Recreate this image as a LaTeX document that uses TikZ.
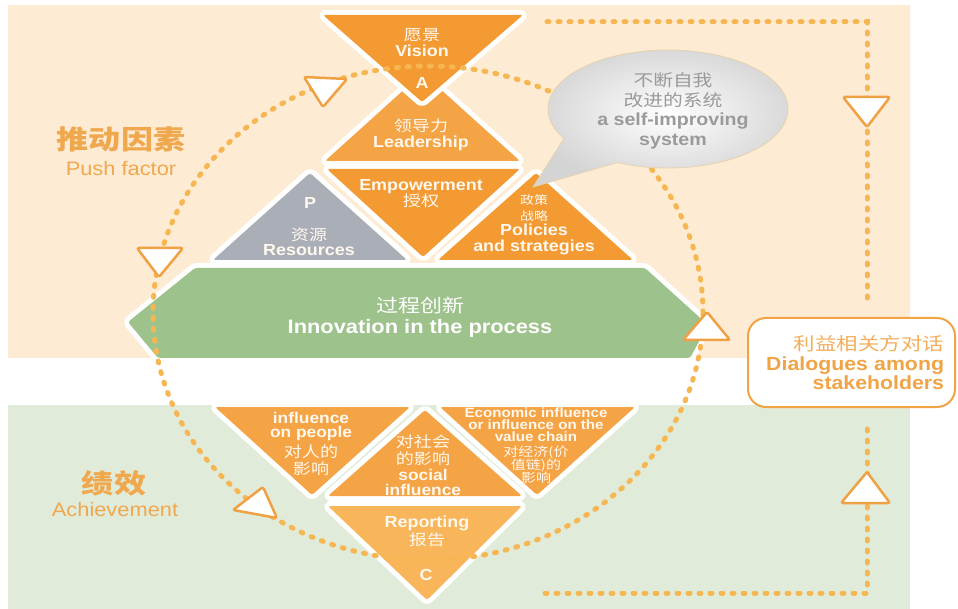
\documentclass[tikz,border=0pt]{standalone}
\usepackage{fontspec}
\usetikzlibrary{calc}
\newfontfamily\lat{Liberation Sans}[FakeStretch=1.12]
\newfontfamily\cjk{Noto Sans CJK SC}[Scale=0.94,FakeStretch=1.2]
\newcommand\zhtxt[1]{{\cjk\mdseries #1}}
\newcommand\zhs[2]{{\cjk\mdseries\fontsize{#1}{#1}\selectfont #2}}
\newcommand\tightls{\lineskiplimit -50pt\relax}
\definecolor{peachbg}{HTML}{FDEBD3}
\definecolor{greenbg}{HTML}{E1EBDA}
\definecolor{orA}{HTML}{F39A33}
\definecolor{orB}{HTML}{F4A345}
\definecolor{orC}{HTML}{F5A445}
\definecolor{orD}{HTML}{F8B55A}
\definecolor{grayres}{HTML}{A9AEB7}
\definecolor{greenhex}{HTML}{9DC28B}
\definecolor{dotc}{HTML}{F6B753}
\definecolor{arrc}{HTML}{F0A143}
\definecolor{labc}{HTML}{F0A84E}
\definecolor{txtw}{HTML}{FFF8EE}
\definecolor{bubtxt}{HTML}{9A9A9A}
\definecolor{bubedge}{HTML}{E6D2AE}
\definecolor{boxc}{HTML}{F0A445}
\definecolor{boxzh}{HTML}{F2AE5C}
\begin{document}
\begin{tikzpicture}[x=1pt,y=-1pt,
 shp/.style={rounded corners=2.5pt, preaction={draw=white, fill=white, line width=10pt, line join=round}},
 lbl/.style={text=txtw, align=center, inner sep=0pt, font=\lat\bfseries\fontsize{16}{16}\selectfont\tightls},
 circdots/.style={draw=dotc, line width=5pt, line cap=round, dash pattern=on 2pt off 9pt},
 rectdots/.style={draw=dotc, line width=5pt, line cap=round, dash pattern=on 2pt off 9pt},
 arrtri/.style={fill=white, draw=arrc, line width=2.5pt, line join=round, rounded corners=2pt},
 sidelbl/.style={text=labc, inner sep=0pt}]

\useasboundingbox (0,0) rectangle (958,609);
\fill[white] (0,0) rectangle (958,609);
\fill[peachbg] (8,5) rectangle (910,358);
\fill[greenbg] (8,405) rectangle (910,609);

% right-side dotted connectors
\coordinate (tpS) at (547,22); \coordinate (tpC) at (867,22); \coordinate (tpE) at (867,300);
\coordinate (bpS) at (545,593); \coordinate (bpC) at (867,593); \coordinate (bpE) at (867,423);
\draw[rectdots] (tpS) -- (tpC) -- (tpE);
\draw[rectdots] (bpS) -- (bpC) -- (bpE);

% diamond shapes
\fill[shp, fill=orB] (325,161) -- (520,161) -- (422.5,73) -- cycle;
\fill[shp, fill=orA] (327,169) -- (520,169) -- (423,257) -- cycle;
\fill[shp, fill=grayres] (213,260) -- (407,260) -- (310,173) -- cycle;
\fill[shp, fill=orA] (438,260) -- (633,260) -- (536,173) -- cycle;
\fill[shp, fill=greenhex] (128,322) -- (195,268) -- (645,268) -- (708,325) -- (690,358) -- (158,358) -- cycle;
\fill[shp, fill=orC] (215,407) -- (410,407) -- (312,495) -- cycle;
\fill[shp, fill=orC] (328,496) -- (522,496) -- (425,410) -- cycle;
\fill[shp, fill=orC] (440,407) -- (635,407) -- (537,495) -- cycle;
\fill[shp, fill=orD] (328,506) -- (522,506) -- (427,600) -- cycle;
\fill[shp, fill=orA] (323,15) -- (523,15) -- (422,102) -- cycle;

% dotted cycle
\draw[circdots] (428,313) ellipse [x radius=275pt, y radius=247pt];

% arrow triangles
\draw[arrtri] (304,77) -- (347,79) -- (323,107) -- cycle;
\draw[arrtri] (137,248) -- (183,248) -- (159,277) -- cycle;
\draw[arrtri] (233,510) -- (263,487) -- (277,518) -- cycle;
\draw[arrtri] (683,340) -- (730,340) -- (707,312) -- cycle;
\draw[arrtri] (843,97) -- (890,97) -- (867,127) -- cycle;
\draw[arrtri] (841,503) -- (890,503) -- (867,472) -- cycle;

% speech bubble
\coordinate (bub) at (668,109);
\coordinate (tipc) at (533,187);
\path[shade, inner color=white, outer color=black!17, draw=bubedge, line width=0.8pt]
  ($(bub)+(245:120pt and 59pt)$) -- (tipc) -- ($(bub)+(210:120pt and 59pt)$)
  arc[start angle=210, end angle=-115, x radius=120pt, y radius=59pt] -- cycle;

% labels in shapes
\node[lbl] (tVision) at (422,43) {\zhtxt{愿景}\\Vision};
\node[lbl] (tA) at (422,83) {A};
\node[lbl] (tLead) at (421,135) {\zhtxt{领导力}\\Leadership};
\node[lbl] (tEmp) at (421,194) {Empowerment\\\zhtxt{授权}};
\node[lbl] (tP) at (310,203) {P};
\node[lbl, font=\lat\bfseries\fontsize{16}{15}\selectfont\tightls] (tRes) at (309,242) {\zhtxt{资源}\\Resources};
\node[lbl, font=\lat\bfseries\fontsize{16}{15.5}\selectfont\tightls] (tPol) at (534,225) {\zhs{12.4}{政策}\\\zhs{12.4}{战略}\\Policies\\and strategies};
\node[lbl, text=white, font=\lat\bfseries\fontsize{19.5}{21}\selectfont\tightls] (tInno) at (420,317) {\zhtxt{过程创新}\\Innovation in the process};
\node[lbl, font=\lat\bfseries\fontsize{15.5}{14.5}\selectfont\tightls] (tPeople) at (311,444) {influence\\on people\\[5pt]\zhs{16}{对人的}\\[3pt]\zhs{16}{影响}};
\node[lbl, font=\lat\bfseries\fontsize{15.5}{14.5}\selectfont\tightls] (tSoc) at (423,465) {\zhs{16}{对社会}\\[2pt]\zhs{16}{的影响}\\[2pt]social\\influence};
\node[lbl, font=\lat\bfseries\fontsize{13.5}{12}\selectfont\tightls] (tEco) at (536,446) {Economic influence\\or influence on the\\value chain\\[3pt]\zhs{13.3}{对经济(价}\\[1pt]\zhs{13.3}{值链)的}\\[1pt]\zhs{13.3}{影响}};
\node[lbl, font=\lat\bfseries\fontsize{16}{16}\selectfont\tightls] (tRep) at (427,531) {Reporting\\[2pt]\zhtxt{报告}};
\node[lbl] (tC) at (426,575) {C};

% side labels
\node[sidelbl, font=\cjk\bfseries\fontsize{28.4}{28}\selectfont] (pushzh) at (121,139) {推动因素};
\node[sidelbl, font=\lat\fontsize{19.5}{20}\selectfont] (pushen) at (121,169) {Push factor};
\node[sidelbl, font=\cjk\bfseries\fontsize{28.4}{28}\selectfont] (achzh) at (114,483) {绩效};
\node[sidelbl, font=\lat\fontsize{19.5}{20}\selectfont] (achen) at (115,510) {Achievement};

% bubble text
\node[align=center, inner sep=0pt, text=bubtxt, font=\lat\bfseries\fontsize{17.5}{19.5}\selectfont\tightls] (bubt) at (673,111) {\zhtxt{不断自我}\\\zhtxt{改进的系统}\\a self-improving\\system};

% dialogue box
\node[draw=boxc, line width=2pt, fill=white, rounded corners=18pt, minimum width=207pt, minimum height=89pt, text width=185pt, inner xsep=11pt, align=right, text=boxc, font=\lat\bfseries\fontsize{19}{18.5}\selectfont\tightls] (dlg) at (851.5,362.5) {\textcolor{boxzh}{\zhtxt{利益相关方对话}}\\[2pt]Dialogues among\\stakeholders};
\end{tikzpicture}
\end{document}
